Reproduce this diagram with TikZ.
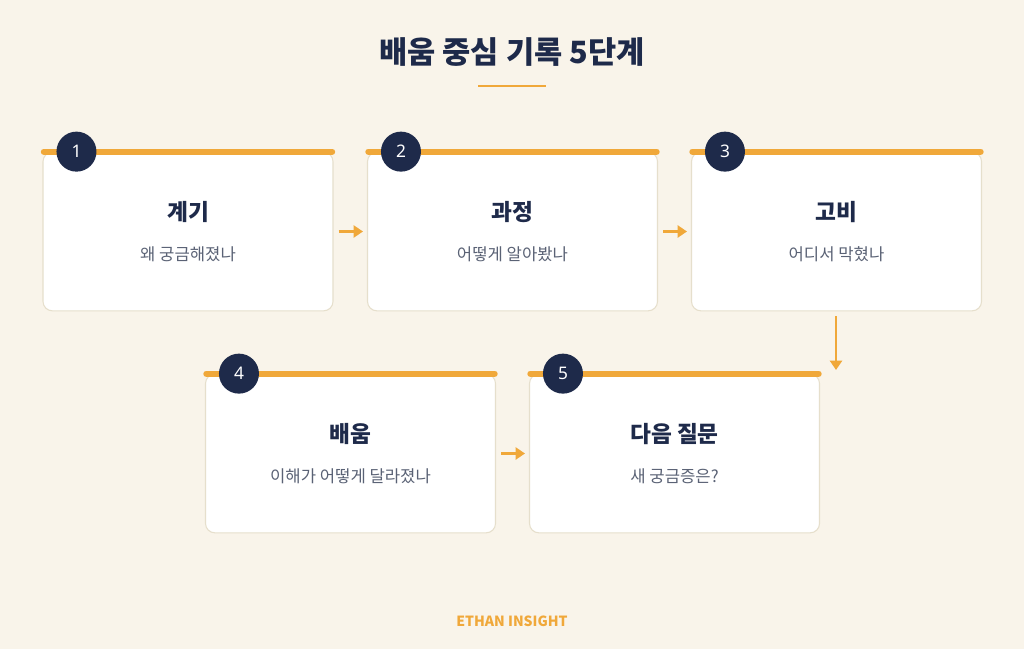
\documentclass[tikz,border=0pt]{standalone}
\usepackage{fontspec}
\setmainfont{Noto Sans CJK KR}
\newfontfamily\numfont{Noto Sans}
\usetikzlibrary{arrows.meta}
\definecolor{bg}{HTML}{F9F4EA}
\definecolor{navy}{HTML}{1E2A4A}
\definecolor{org}{HTML}{F0A83A}
\definecolor{gry}{HTML}{5A6275}
\definecolor{brd}{HTML}{E6DFCC}
\tikzset{
 card/.style={draw=brd,fill=white,rounded corners=7pt,line width=0.8pt,minimum width=217.5pt,minimum height=119pt,inner sep=0pt},
 bar/.style={draw=org,line width=4.5pt,line cap=round},
 badge/.style={circle,fill=navy,minimum size=30pt,inner sep=0pt,text=white,font=\numfont\bfseries\fontsize{13}{13}\selectfont},
 ttl/.style={text=navy,font=\bfseries\fontsize{17}{17}\selectfont},
 sub/.style={text=gry,font=\fontsize{12.5}{12.5}\selectfont},
 arr/.style={draw=org,line width=2.2pt,-{Triangle[length=7pt,width=9pt]}}
}
\begin{document}
\begin{tikzpicture}[x=0.75pt,y=-0.75pt]
\fill[bg] (0,0) rectangle (1024,649);
\useasboundingbox (0,0) rectangle (1024,649);
\node[text=navy,font=\bfseries\fontsize{23}{23}\selectfont] (title) at (512,52) {배움 중심 기록 5단계};
\draw[org,line width=2.2pt] (478,86) -- (546,86);
\foreach \n/\x/\y/\t/\s in {1/188/231.5/계기/왜 궁금해졌나, 2/512.5/231.5/과정/어떻게 알아봤나, 3/836.5/231.5/고비/어디서 막혔나, 4/350.5/453.5/배움/이해가 어떻게 달라졌나, 5/674.5/453.5/다음 질문/새 궁금증은?}{
 \node[card] (c\n) at (\x,\y) {};
 \draw[bar] ([xshift=1pt]c\n.north west) -- ([xshift=-1pt]c\n.north east);
 \node[badge] (b\n) at ([xshift=25.5pt]c\n.north west) {\n};
 \node[ttl] (t\n) at (\x,\y-19.5) {\t};
 \node[sub] (s\n) at (\x,\y+22.5) {\s};
}
\draw[arr] ([xshift=3.75pt]c1.east) -- ([xshift=-3pt]c2.west);
\draw[arr] ([xshift=3.75pt]c2.east) -- ([xshift=-3pt]c3.west);
\draw[arr] (836,316) -- (836,370);
\draw[arr] ([xshift=3.75pt]c4.east) -- ([xshift=-3pt]c5.west);
\node[text=org,font=\bfseries\fontsize{10.5}{10.5}\selectfont] (foot) at (512,621) {ETHAN INSIGHT};
\end{tikzpicture}
\end{document}
